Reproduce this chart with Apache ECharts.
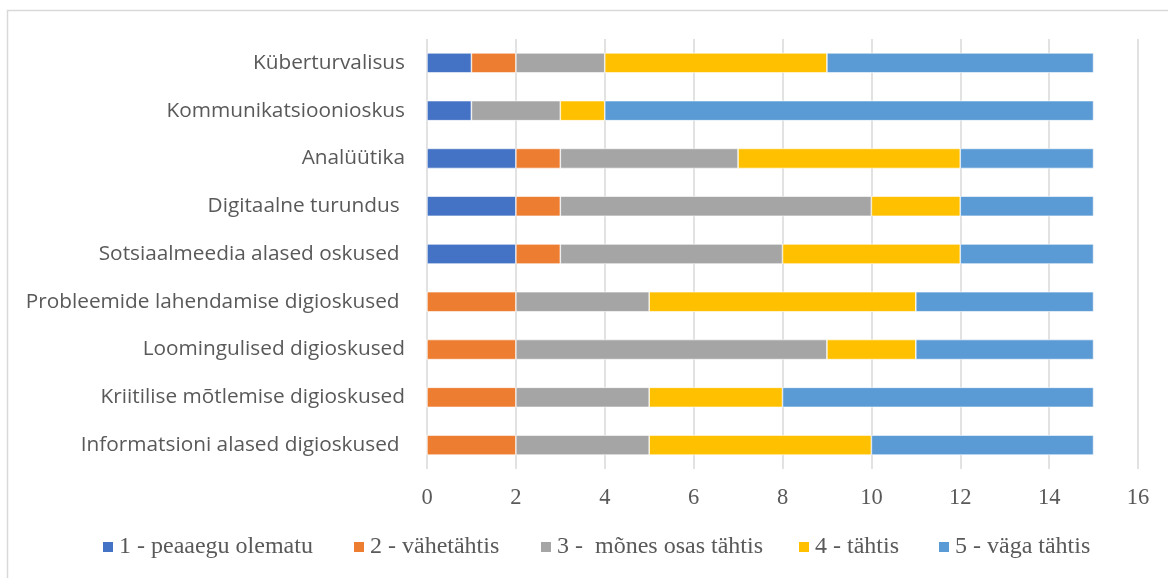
<!DOCTYPE html>
<html>
<head>
<meta charset="utf-8">
<script src="https://cdn.jsdelivr.net/npm/echarts@6/dist/echarts.min.js"></script>
<style>
html,body{margin:0;padding:0;background:#fff;}
#c{width:1168px;height:578px;}
</style>
</head>
<body>
<div id="c"></div>
<script>
const categories = [
  "Informatsioni alased digioskused ",
  "Kriitilise mõtlemise digioskused",
  "Loomingulised digioskused",
  "Probleemide lahendamise digioskused ",
  "Sotsiaalmeedia alased oskused ",
  "Digitaalne turundus ",
  "Analüütika",
  "Kommunikatsioonioskus",
  "Küberturvalisus"
];
const seriesNames = ["1 - peaaegu olematu", "2 - vähetähtis", "3 -  mõnes osas tähtis", "4 - tähtis", "5 - väga tähtis"];
const s1 = [0, 0, 0, 0, 2, 2, 2, 1, 1];
const s2 = [2, 2, 2, 2, 1, 1, 1, 0, 1];
const s3 = [3, 3, 7, 3, 5, 7, 4, 2, 2];
const s4 = [5, 3, 2, 6, 4, 2, 5, 1, 5];
const s5 = [5, 7, 4, 4, 3, 3, 3, 11, 6];
const colors = ["#4472C4", "#ED7D31", "#A5A5A5", "#FFC000", "#5B9BD5"];
const allData = [s1, s2, s3, s4, s5];
const legendLefts = [101, 352, 539, 797, 937];

const chart = echarts.init(document.getElementById('c'));
chart.setOption({
  animation: false,
  color: colors,
  graphic: [{
    type: 'rect',
    shape: {x: 7.5, y: 10.5, width: 1200, height: 600},
    style: {fill: 'none', stroke: '#D9D9D9', lineWidth: 1.5},
    silent: true
  }],
  grid: {left: 427, right: 30, top: 39, bottom: 109, containLabel: false},
  xAxis: {
    type: 'value', min: 0, max: 16, interval: 2,
    axisLine: {show: false}, axisTick: {show: false},
    splitLine: {lineStyle: {color: '#D9D9D9', width: 1.5}},
    axisLabel: {color: '#595959', fontFamily: 'Liberation Serif', fontSize: 22.5, margin: 18}
  },
  yAxis: {
    type: 'category', data: categories,
    axisLine: {show: false}, axisTick: {show: false},
    axisLabel: {color: '#595959', fontFamily: 'Open Sans', fontSize: 20.8, margin: 22}
  },
  legend: seriesNames.map((n, i) => ({
    top: 535, left: legendLefts[i],
    itemWidth: 12, itemHeight: 12, icon: 'rect', padding: 0,
    textStyle: {color: '#595959', fontFamily: 'Liberation Serif', fontSize: 24},
    data: [n]
  })),
  series: seriesNames.map((n, i) => ({
    name: n, type: 'bar', stack: 'total', data: allData[i],
    barWidth: 20,
    itemStyle: {color: colors[i], borderColor: '#ffffff', borderWidth: 0.6}
  }))
});
</script>
</body>
</html>
